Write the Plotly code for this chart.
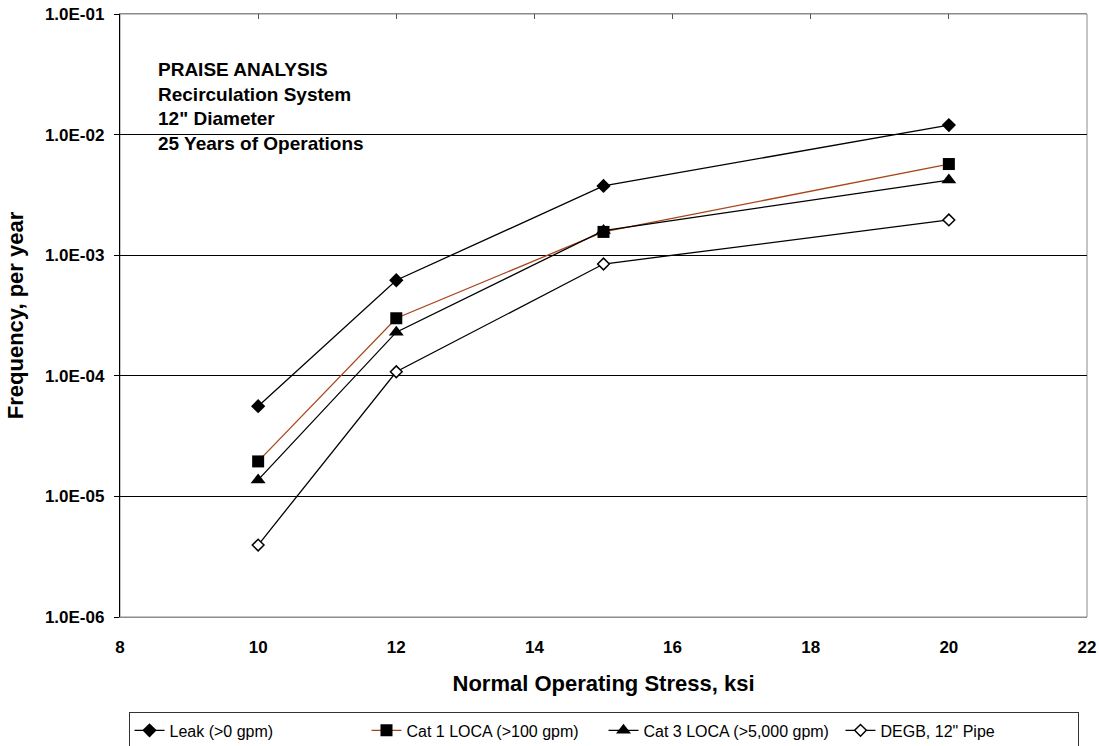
import plotly.graph_objects as go

# ---------------------------------------------------------------------------
# Data
# ---------------------------------------------------------------------------
stress_ksi = [10, 12, 15, 20]

leak = [5.6e-5, 6.2e-4, 3.75e-3, 1.2e-2]
cat1_loca = [1.95e-5, 3.0e-4, 1.56e-3, 5.7e-3]
cat3_loca = [1.37e-5, 2.3e-4, 1.6e-3, 4.2e-3]
degb = [3.95e-6, 1.08e-4, 8.45e-4, 1.96e-3]

series_names = [
    "Leak (>0 gpm)",
    "Cat 1 LOCA (>100 gpm)",
    "Cat 3 LOCA (>5,000 gpm)",
    'DEGB, 12" Pipe',
]

y_tick_vals = [1e-6, 1e-5, 1e-4, 1e-3, 1e-2, 1e-1]
y_tick_text = ["1.0E-06", "1.0E-05", "1.0E-04", "1.0E-03", "1.0E-02", "1.0E-01"]
x_tick_vals = [8, 10, 12, 14, 16, 18, 20, 22]

note_lines = [
    "PRAISE ANALYSIS",
    "Recirculation System",
    '12" Diameter',
    "25 Years of Operations",
]

# ---------------------------------------------------------------------------
# Style
# ---------------------------------------------------------------------------
_FONT = "Liberation Sans, Arial, sans-serif"
_BLACK = "#000000"
_BORDER = "#8c8c8c"
_BROWN = "#a8461a"

styles = [
    dict(line=dict(color=_BLACK, width=1.3),
         marker=dict(symbol="diamond", size=11, color=_BLACK)),
    dict(line=dict(color=_BROWN, width=1.3),
         marker=dict(symbol="square", size=12, color=_BLACK)),
    dict(line=dict(color=_BLACK, width=1.3),
         marker=dict(symbol="triangle-up", size=13, color=_BLACK)),
    dict(line=dict(color=_BLACK, width=1.3),
         marker=dict(symbol="diamond", size=9, color="white",
                     line=dict(color=_BLACK, width=1.5))),
]

fig = go.Figure()

for name, values, style in zip(series_names, [leak, cat1_loca, cat3_loca, degb], styles):
    fig.add_trace(
        go.Scatter(
            x=stress_ksi,
            y=values,
            mode="lines+markers",
            name=name,
            line=style["line"],
            marker=style["marker"],
        )
    )

fig.update_layout(
    width=1099,
    height=746,
    template=None,
    plot_bgcolor="white",
    paper_bgcolor="white",
    font=dict(family=_FONT, color=_BLACK),
    margin=dict(l=120, r=12, t=14, b=129, autoexpand=False),
    showlegend=True,
    legend=dict(
        orientation="h",
        x=0.5,
        xanchor="center",
        yref="container",
        y=0.045,
        yanchor="top",
        bordercolor="#333333",
        borderwidth=1,
        font=dict(family=_FONT, size=16, color=_BLACK),
        itemwidth=30,
        entrywidth=192,
    ),
    xaxis=dict(
        range=[8, 22],
        tickvals=x_tick_vals,
        ticks="",
        showgrid=False,
        zeroline=False,
        showline=True,
        linecolor=_BORDER,
        linewidth=1,
        mirror=True,
        automargin=False,
        tickfont=dict(family=_FONT, size=17, color=_BLACK, weight="bold"),
        ticklabelstandoff=15,
        title=dict(
            text="<b>Normal Operating Stress, ksi</b>",
            font=dict(family=_FONT, size=22, color=_BLACK),
            standoff=19,
        ),
    ),
    xaxis2=dict(
        overlaying="x",
        side="top",
        range=[8, 22],
        tickvals=x_tick_vals,
        ticks="inside",
        ticklen=5,
        tickcolor="#555555",
        showticklabels=False,
        showgrid=False,
        zeroline=False,
        showline=False,
        automargin=False,
    ),
    yaxis=dict(
        type="log",
        range=[-6, -1],
        tickvals=y_tick_vals,
        ticktext=y_tick_text,
        ticks="outside",
        ticklen=5,
        tickcolor=_BLACK,
        showgrid=True,
        gridcolor=_BLACK,
        gridwidth=1,
        zeroline=False,
        showline=True,
        linecolor=_BLACK,
        linewidth=1.3,
        automargin=False,
        ticklabelstandoff=6,
        tickfont=dict(family=_FONT, size=17, color=_BLACK, weight="bold"),
        title=dict(
            text="<b>Frequency, per year</b>",
            font=dict(family=_FONT, size=22, color=_BLACK),
            standoff=15,
        ),
    ),
    shapes=[
        dict(type="rect", xref="paper", yref="paper", x0=0, x1=1, y0=0, y1=1,
             line=dict(color=_BORDER, width=1), layer="below"),
    ],
    annotations=[
        dict(
            text="<b>" + "<br>".join(note_lines) + "</b>",
            xref="paper", yref="paper",
            x=0.037, y=0.928,
            xanchor="left", yanchor="top",
            align="left",
            showarrow=False,
            font=dict(family=_FONT, size=19, color=_BLACK),
        )
    ],
)

# a dummy invisible trace keeps the top tick axis drawn
fig.add_trace(go.Scatter(x=[8], y=[1e-3], xaxis="x2", mode="markers",
                         marker=dict(opacity=0), showlegend=False, hoverinfo="skip"))

# drop the browser's default body margin so the figure sits at the window origin
fig.write_html(
    "out.html",
    config={"displayModeBar": False},
    post_script="document.body.style.margin='0';",
)
